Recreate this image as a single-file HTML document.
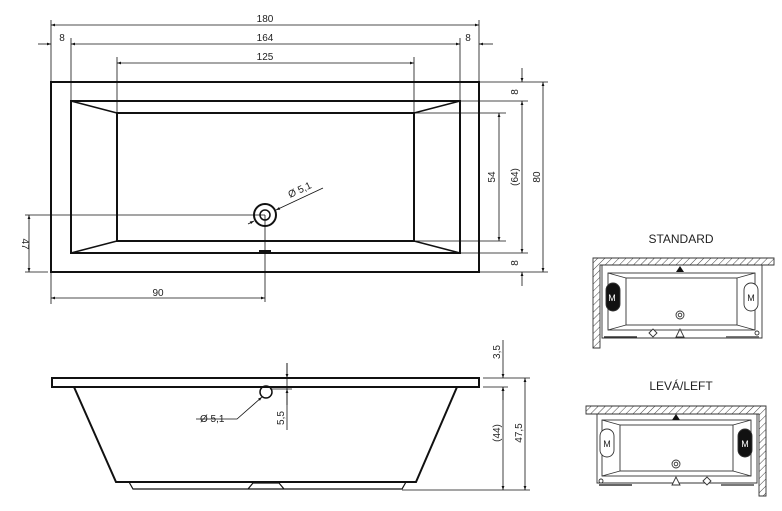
<!DOCTYPE html>
<html><head><meta charset="utf-8"><style>
body{margin:0;background:#fff}
svg text{font-family:"Liberation Sans",sans-serif;font-size:10px;fill:#222}
</style></head><body>
<svg width="782" height="506" viewBox="0 0 782 506" xmlns="http://www.w3.org/2000/svg">
<defs>
<marker id="a" viewBox="0 0 10 10" refX="10" refY="5" markerWidth="7" markerHeight="5" orient="auto-start-reverse"><path d="M0,1.5L10,5L0,8.5z" fill="#111"/></marker>
<pattern id="h" width="5" height="5" patternUnits="userSpaceOnUse" patternTransform="rotate(45)"><line x1="0" y1="0" x2="0" y2="5" stroke="#444" stroke-width="1"/></pattern>
</defs>
<g stroke="#111" fill="none">
<!-- top plan -->
<rect x="51" y="82" width="428" height="190" stroke-width="2"/>
<rect x="71" y="101" width="389" height="152" stroke-width="2"/>
<rect x="117" y="113" width="297" height="128" stroke-width="2"/>
<path d="M71,101L117,113M460,101L414,113M71,253L117,241M460,253L414,241" stroke-width="1.5"/>
<circle cx="265" cy="215" r="11" stroke-width="2"/><circle cx="265" cy="215" r="5" stroke-width="1.5"/>
<rect x="259" y="250" width="12" height="3" fill="#111" stroke="none"/>
<g stroke-width="0.8">
<path d="M51,20V82M479,20V82M71,38V101M460,38V101M117,57V113M414,57V113"/>
<line x1="51" y1="25" x2="479" y2="25" marker-start="url(#a)" marker-end="url(#a)"/>
<line x1="71" y1="44" x2="460" y2="44" marker-start="url(#a)" marker-end="url(#a)"/>
<line x1="38" y1="44" x2="51" y2="44" marker-end="url(#a)"/>
<line x1="493" y1="44" x2="479" y2="44" marker-end="url(#a)"/>
<line x1="117" y1="63" x2="414" y2="63" marker-start="url(#a)" marker-end="url(#a)"/>
<path d="M479,82H548M460,101H528M414,113H506M414,241H506M460,253H528M479,272H548"/>
<line x1="499" y1="113" x2="499" y2="241" marker-start="url(#a)" marker-end="url(#a)"/>
<line x1="522" y1="101" x2="522" y2="253" marker-start="url(#a)" marker-end="url(#a)"/>
<line x1="522" y1="68" x2="522" y2="82" marker-end="url(#a)"/>
<line x1="522" y1="286" x2="522" y2="272" marker-end="url(#a)"/>
<line x1="543" y1="82" x2="543" y2="272" marker-start="url(#a)" marker-end="url(#a)"/>
<path d="M25,215H265M25,272H48M265,215V302M51,272V304"/>
<line x1="29" y1="215" x2="29" y2="272" marker-start="url(#a)" marker-end="url(#a)"/>
<line x1="51" y1="298" x2="265" y2="298" marker-start="url(#a)" marker-end="url(#a)"/>
<line x1="323" y1="188" x2="276" y2="210" marker-end="url(#a)"/>
<line x1="248" y1="224" x2="254" y2="221" marker-end="url(#a)"/>
</g>
<!-- elevation -->
<rect x="52" y="378" width="427" height="9" stroke-width="2"/>
<path d="M74,387L116,482H416L457,387" stroke-width="2"/>
<path d="M129,482L133,489H402L406,482M248,489L253,483H279L284,489" stroke-width="1.2"/>
<circle cx="266" cy="392" r="6" stroke-width="1.5"/>
<g stroke-width="0.8">
<path d="M287,363V430M270,389H292M483,378H530M483,387H508M402,490H530"/>
<line x1="287" y1="363" x2="287" y2="378" marker-end="url(#a)"/>
<line x1="287" y1="405" x2="287" y2="389" marker-end="url(#a)"/>
<path d="M196,419H237L262,397" marker-end="url(#a)"/>
<line x1="503" y1="340" x2="503" y2="378" marker-end="url(#a)"/>
<line x1="503" y1="400" x2="503" y2="387" marker-end="url(#a)"/>
<line x1="503" y1="387" x2="503" y2="490" marker-start="url(#a)" marker-end="url(#a)"/>
<line x1="525" y1="378" x2="525" y2="490" marker-start="url(#a)" marker-end="url(#a)"/>
</g>
</g>
<g>
<text x="265" y="22" text-anchor="middle">180</text>
<text x="265" y="41" text-anchor="middle">164</text>
<text x="62" y="41" text-anchor="middle">8</text>
<text x="468" y="41" text-anchor="middle">8</text>
<text x="265" y="60" text-anchor="middle">125</text>
<text x="158" y="296" text-anchor="middle">90</text>
<text transform="translate(290,198) rotate(-25)">Ø 5,1</text>
<text transform="translate(495,177) rotate(-90)" text-anchor="middle">54</text>
<text transform="translate(518,177) rotate(-90)" text-anchor="middle">(64)</text>
<text transform="translate(540,177) rotate(-90)" text-anchor="middle">80</text>
<text transform="translate(518,92) rotate(-90)" text-anchor="middle">8</text>
<text transform="translate(518,263) rotate(-90)" text-anchor="middle">8</text>
<text transform="translate(22,244) rotate(90)" text-anchor="middle">47</text>
<text x="200" y="422">Ø 5,1</text>
<text transform="translate(284,418) rotate(-90)" text-anchor="middle">5,5</text>
<text transform="translate(500,352) rotate(-90)" text-anchor="middle">3,5</text>
<text transform="translate(500,433) rotate(-90)" text-anchor="middle">(44)</text>
<text transform="translate(522,433) rotate(-90)" text-anchor="middle">47,5</text>
<text x="681" y="243" text-anchor="middle" style="font-size:12px">STANDARD</text>
<text x="681" y="390" text-anchor="middle" style="font-size:12px">LEVÁ/LEFT</text>
</g>
<!-- standard inset -->
<g stroke="#333" fill="none" stroke-width="0.9">
<path d="M593,258H774V265H600V348H593Z" fill="url(#h)"/>
<path d="M602,265V338H762V265"/>
<rect x="608" y="273" width="147" height="57"/>
<rect x="626" y="278" width="111" height="47"/>
<path d="M608,273L626,278M755,273L737,278M608,330L626,325M755,330L737,325"/>
<rect x="606" y="283" width="14" height="28" rx="7" fill="#111"/>
<rect x="744" y="283" width="14" height="28" rx="7" fill="#fff"/>
<circle cx="680" cy="315" r="4"/><circle cx="680" cy="315" r="1.8"/>
<path d="M649,333L653,329L657,333L653,337Z" fill="#fff"/>
<path d="M680,329L676,337H684Z" fill="#fff"/>
<circle cx="757" cy="333" r="2"/>
<line x1="604" y1="337" x2="637" y2="337" stroke-width="1.5"/>
<line x1="726" y1="337" x2="759" y2="337" stroke="#666" stroke-width="1.8"/>
</g>
<path d="M680,266L676,272H684Z" fill="#111"/>
<g fill="#fff" style="font-size:9px"><text x="612" y="301" text-anchor="middle" style="fill:#fff;font-size:9px">M</text></g>
<text x="751" y="301" text-anchor="middle" style="font-size:9px">M</text>
<!-- left inset -->
<g stroke="#333" fill="none" stroke-width="0.9">
<path d="M586,406H766V496H759V414H586Z" fill="url(#h)"/>
<path d="M597,414V483H757V414"/>
<rect x="602" y="420" width="149" height="56"/>
<rect x="620" y="425" width="113" height="46"/>
<path d="M602,420L620,425M751,420L733,425M602,476L620,471M751,476L733,471"/>
<rect x="600" y="429" width="14" height="28" rx="7" fill="#fff"/>
<rect x="738" y="429" width="14" height="28" rx="7" fill="#111"/>
<circle cx="676" cy="464" r="4"/><circle cx="676" cy="464" r="1.8"/>
<path d="M703,481L707,477L711,481L707,485Z" fill="#fff"/>
<path d="M676,477L672,485H680Z" fill="#fff"/>
<circle cx="601" cy="481" r="2"/>
<line x1="599" y1="485" x2="632" y2="485" stroke-width="1.5"/>
<line x1="721" y1="485" x2="754" y2="485" stroke="#666" stroke-width="1.8"/>
</g>
<path d="M676,414L672,420H680Z" fill="#111"/>
<text x="607" y="447" text-anchor="middle" style="font-size:9px">M</text>
<text x="745" y="447" text-anchor="middle" style="fill:#fff;font-size:9px">M</text>
</svg>
</body></html>
